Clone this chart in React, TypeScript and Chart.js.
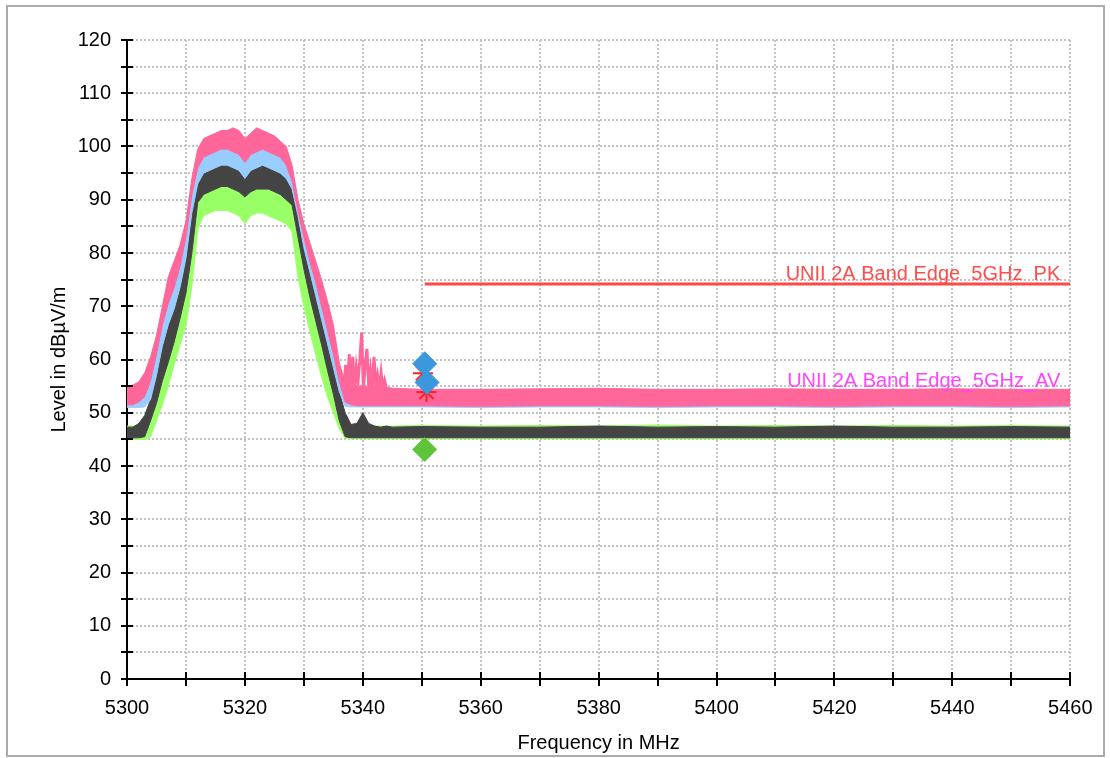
import React, { useEffect, useRef } from "react";
import { Chart, registerables } from "chart.js";

Chart.register(...registerables);

// ---------- data ----------
const FREQ_MHZ = [
  5300, 5301, 5302, 5303, 5304, 5305, 5306, 5307, 5308, 5309,
  5310, 5311, 5312, 5313, 5314, 5315, 5316, 5317, 5318, 5319,
  5320, 5321, 5322, 5323, 5324, 5325, 5326, 5327, 5328, 5329,
  5330, 5331, 5332, 5333, 5334, 5335, 5336, 5337, 5338, 5339,
  5340, 5341, 5342, 5343, 5344, 5345,
  5350, 5360, 5370, 5380, 5390, 5400, 5410, 5420, 5430, 5440, 5450, 5460,
];

// Pink trace (upper / lower envelope of the noisy sweep)
const PINK_HI = [
  55.0, 55.2, 55.8, 57.5, 60.5, 64.5, 70.0, 75.5, 78.5, 81.5,
  86.0, 94.0, 99.5, 101.5, 102.0, 102.5, 103.0, 103.0, 103.5, 103.0,
  101.5, 102.5, 103.5, 103.0, 102.5, 102.0, 101.0, 100.0, 96.5, 90.0,
  85.5, 82.0, 78.5, 75.0, 71.0, 66.5, 59.5, 55.5, 55.0, 55.0,
  55.0, 55.0, 55.0, 54.8, 54.8, 54.6,
  54.4, 54.4, 54.5, 54.6, 54.4, 54.4, 54.5, 54.4, 54.4, 54.5, 54.4, 54.4,
];
const PINK_LO = [
  51.5, 51.5, 52.0, 53.0, 56.0, 61.0, 66.5, 70.5, 73.5, 77.5,
  83.0, 91.0, 96.0, 98.0, 98.5, 99.0, 99.5, 99.5, 99.0, 98.5,
  97.0, 98.5, 99.0, 99.5, 99.0, 98.5, 98.0, 96.5, 93.5, 88.0,
  83.0, 78.5, 74.5, 70.0, 65.5, 61.0, 56.0, 52.0, 51.5, 51.3,
  51.3, 51.3, 51.3, 51.3, 51.3, 51.3,
  51.3, 51.2, 51.3, 51.3, 51.2, 51.3, 51.3, 51.2, 51.3, 51.3, 51.2, 51.3,
];

// Light blue trace
const BLUE_HI = [
  54.0, 54.0, 54.3, 55.0, 58.0, 63.0, 68.5, 72.5, 75.5, 79.5,
  85.0, 93.0, 98.0, 99.5, 100.0, 100.5, 101.0, 101.0, 100.5, 100.0,
  98.5, 100.0, 100.5, 101.0, 100.5, 100.0, 99.5, 98.0, 95.5, 90.0,
  85.0, 80.5, 76.5, 72.0, 67.5, 63.0, 58.0, 54.3, 54.3, 54.3,
  54.3, 54.3, 54.3, 54.3, 54.3, 54.3,
  54.3, 54.3, 54.3, 54.3, 54.3, 54.3, 54.3, 54.3, 54.3, 54.3, 54.3, 54.3,
];
const BLUE_LO = [
  51.0, 51.0, 51.0, 51.1, 52.5, 57.0, 62.5, 66.5, 69.5, 73.5,
  79.0, 87.5, 93.0, 95.0, 95.5, 96.0, 96.5, 96.5, 96.0, 95.5,
  94.0, 95.5, 96.0, 96.5, 96.0, 95.5, 95.0, 94.0, 92.0, 87.0,
  81.0, 76.5, 72.0, 67.5, 63.0, 58.5, 54.0, 51.2, 51.1, 51.1,
  51.1, 51.1, 51.1, 51.1, 51.1, 51.1,
  51.1, 51.0, 51.1, 51.1, 51.0, 51.1, 51.1, 51.0, 51.1, 51.1, 51.0, 51.1,
];

// Dark grey trace
const BLACK_HI = [
  47.3, 47.3, 48.0, 49.5, 52.5, 57.0, 62.5, 66.5, 69.5, 73.5,
  79.0, 87.5, 93.0, 95.0, 95.5, 96.0, 96.5, 96.5, 96.0, 95.5,
  94.0, 95.5, 96.0, 96.5, 96.0, 95.5, 95.0, 94.0, 92.0, 87.0,
  81.0, 76.5, 72.0, 67.5, 63.0, 58.5, 54.0, 50.0, 47.8, 48.0,
  50.0, 48.0, 47.5, 47.3, 47.5, 47.3,
  47.4, 47.3, 47.3, 47.5, 47.3, 47.4, 47.3, 47.5, 47.3, 47.3, 47.4, 47.3,
];
const BLACK_LO = [
  45.3, 45.3, 45.3, 45.5, 48.5, 51.8, 56.0, 59.5, 63.3, 67.7,
  72.5, 80.0, 89.5, 91.0, 91.5, 92.0, 92.5, 92.5, 92.0, 91.5,
  90.5, 91.5, 92.0, 92.0, 92.0, 91.5, 91.0, 90.0, 89.0, 83.0,
  77.0, 71.8, 67.3, 62.8, 58.0, 53.5, 48.5, 45.5, 45.3, 45.3,
  45.3, 45.3, 45.3, 45.3, 45.3, 45.3,
  45.3, 45.3, 45.3, 45.3, 45.3, 45.3, 45.3, 45.3, 45.3, 45.3, 45.3, 45.3,
];

// Light green trace
const GREEN_HI = [
  47.5, 47.5, 47.5, 47.5, 49.0, 52.5, 56.5, 60.0, 64.0, 68.0,
  73.0, 81.0, 90.0, 91.5, 92.0, 92.5, 93.0, 93.0, 92.5, 92.0,
  91.0, 92.0, 92.5, 92.5, 92.5, 92.0, 91.5, 90.5, 89.5, 84.0,
  78.0, 73.0, 68.5, 64.0, 59.0, 54.5, 49.5, 47.5, 47.5, 47.5,
  47.5, 47.5, 47.5, 47.5, 47.5, 47.5,
  47.6, 47.5, 47.6, 47.5, 47.7, 47.5, 47.6, 47.5, 47.6, 47.5, 47.6, 47.5,
];
const GREEN_LO = [
  45.0, 45.0, 45.0, 45.0, 45.5, 48.5, 51.5, 55.0, 59.0, 62.7,
  66.5, 73.7, 84.5, 87.0, 87.5, 88.0, 88.0, 88.0, 87.5, 87.0,
  85.5, 87.0, 87.5, 87.5, 87.0, 86.5, 86.0, 85.5, 84.0, 75.5,
  70.0, 65.3, 61.0, 56.8, 53.0, 50.0, 47.0, 45.2, 45.1, 45.1,
  45.1, 45.1, 45.1, 45.1, 45.1, 45.1,
  45.1, 45.1, 45.1, 45.1, 45.1, 45.1, 45.1, 45.1, 45.1, 45.1, 45.1, 45.1,
];

// Pink spurious spikes just after the channel
const SPIKE_FREQ = [
  5336.8, 5337.1, 5337.4, 5337.7, 5338.0, 5338.3, 5338.6, 5338.9, 5339.2, 5339.5,
  5339.8, 5340.1, 5340.4, 5340.7, 5341.0, 5341.3, 5341.6, 5341.9, 5342.2, 5342.5,
  5342.8, 5343.1, 5343.4, 5343.7, 5344.0,
];
const SPIKE_LEVEL = [
  55, 59, 54, 61, 55, 60.5, 54, 58.5, 56, 60,
  65, 54.5, 59, 62, 55, 58, 54.5, 60.5, 55, 57,
  54.5, 57.5, 54.5, 56, 54.5,
];

// Limit lines
const LIMIT_FREQ = [5350.5, 5460];
const PK_LIMIT = [74.2, 74.2];
const AV_LIMIT = [54.0, 54.0];
const PK_LABEL = "UNII 2A Band Edge_5GHz_PK";
const AV_LABEL = "UNII 2A Band Edge_5GHz_AV";

// Markers
const BLUE_MARK_FREQ = [5350.5, 5350.9];
const BLUE_MARK_LEVEL = [59.2, 55.7];
const RED_MARK_FREQ = [5350.2, 5350.8];
const RED_MARK_LEVEL = [57.4, 53.9];
const GREEN_MARK_FREQ = [5350.5];
const GREEN_MARK_LEVEL = [43.1];

// Axes
const X_LABELS = [5300, 5320, 5340, 5360, 5380, 5400, 5420, 5440, 5460];
const Y_LABELS = [0, 10, 20, 30, 40, 50, 60, 70, 80, 90, 100, 110, 120];

const FONT = "'Liberation Sans', Arial, sans-serif";

const pts = (xs: number[], ys: number[]) => xs.map((x, i) => ({ x, y: ys[i] }));

function band(name: string, hi: number[], lo: number[], color: string, order: number) {
  return [
    {
      label: name + " hi",
      data: pts(FREQ_MHZ, hi),
      borderColor: color,
      backgroundColor: color,
      borderWidth: 1,
      pointRadius: 0,
      fill: "+1",
      order,
    },
    {
      label: name + " lo",
      data: pts(FREQ_MHZ, lo),
      borderColor: color,
      backgroundColor: color,
      borderWidth: 1,
      pointRadius: 0,
      fill: false,
      order,
    },
  ];
}

const tickMarks = {
  id: "tickMarks",
  afterDatasetsDraw(chart: any) {
    const { ctx, chartArea } = chart;
    const xs = chart.scales.x;
    const ys = chart.scales.y;
    ctx.save();
    ctx.strokeStyle = "#000";
    ctx.lineWidth = 2;
    xs.ticks.forEach((t: any) => {
      const px = Math.round(xs.getPixelForValue(t.value));
      ctx.beginPath();
      ctx.moveTo(px, chartArea.bottom - 7);
      ctx.lineTo(px, chartArea.bottom + 7);
      ctx.stroke();
    });
    ys.ticks.forEach((t: any) => {
      const py = Math.round(ys.getPixelForValue(t.value));
      ctx.beginPath();
      ctx.moveTo(chartArea.left - 6, py);
      ctx.lineTo(chartArea.left + 6, py);
      ctx.stroke();
    });
    // limit labels
    ctx.font = "20px " + FONT;
    ctx.textAlign = "right";
    ctx.textBaseline = "alphabetic";
    const xr = xs.getPixelForValue(LIMIT_FREQ[1]) - 10;
    ctx.fillStyle = "#ff4c4c";
    ctx.fillText(PK_LABEL, xr, ys.getPixelForValue(PK_LIMIT[1]) - 4);
    ctx.fillStyle = "#ff44ff";
    ctx.fillText(AV_LABEL, xr, ys.getPixelForValue(AV_LIMIT[1]) - 4);
    ctx.restore();
  },
  afterDraw(chart: any) {
    const { ctx } = chart;
    ctx.save();
    ctx.strokeStyle = "#ababab";
    ctx.lineWidth = 2;
    ctx.strokeRect(7, 6, 1097, 750);
    ctx.restore();
  },
};

const bgPlugin = {
  id: "bg",
  beforeDraw(chart: any) {
    const { ctx, width, height } = chart;
    ctx.save();
    ctx.fillStyle = "#ffffff";
    ctx.fillRect(0, 0, width, height);
    ctx.restore();
  },
};

export default function App() {
  const ref = useRef<HTMLCanvasElement>(null);
  useEffect(() => {
    const datasets: any[] = [
      {
        label: "green markers",
        data: pts(GREEN_MARK_FREQ, GREEN_MARK_LEVEL),
        showLine: false,
        pointStyle: "rectRot",
        pointRadius: 12,
        backgroundColor: "#5ec43a",
        borderColor: "#5ec43a",
        borderWidth: 1,
        order: 0,
      },
      {
        label: "blue markers",
        data: pts(BLUE_MARK_FREQ, BLUE_MARK_LEVEL),
        showLine: false,
        pointStyle: "rectRot",
        pointRadius: 12,
        backgroundColor: "#3c98dc",
        borderColor: "#3c98dc",
        borderWidth: 1,
        order: 0,
      },
      {
        label: "red markers",
        data: pts(RED_MARK_FREQ, RED_MARK_LEVEL),
        showLine: false,
        pointStyle: "star",
        pointRadius: 10,
        backgroundColor: "#ff2020",
        borderColor: "#ff2020",
        borderWidth: 2,
        order: 0.5,
      },
      {
        label: "PK limit",
        data: pts(LIMIT_FREQ, PK_LIMIT),
        borderColor: "#ff4848",
        borderWidth: 3,
        pointRadius: 0,
        fill: false,
        order: 0.8,
      },
      {
        label: "pink spikes",
        data: pts(SPIKE_FREQ, SPIKE_LEVEL),
        borderColor: "#ff6699",
        borderWidth: 3,
        pointRadius: 0,
        fill: false,
        order: 1,
      },
      ...band("pink", PINK_HI, PINK_LO, "#ff6699", 1),
      ...band("blue", BLUE_HI, BLUE_LO, "#99ccff", 2),
      ...band("black", BLACK_HI, BLACK_LO, "#444444", 3),
      ...band("green", GREEN_HI, GREEN_LO, "#99ff66", 4),
      {
        label: "AV limit",
        data: pts(LIMIT_FREQ, AV_LIMIT),
        borderColor: "#ff44ff",
        borderWidth: 3,
        pointRadius: 0,
        fill: false,
        order: 5,
      },
    ];

    const chart = new Chart(ref.current as HTMLCanvasElement, {
      type: "line",
      data: { datasets },
      options: {
        responsive: false,
        animation: false,
        devicePixelRatio: 1,
        layout: { padding: { top: 40, right: 38, left: 0, bottom: 0 } },
        elements: { line: { tension: 0 } },
        plugins: { legend: { display: false }, tooltip: { enabled: false } },
        scales: {
          x: {
            type: "linear",
            min: 5300,
            max: 5460,
            afterFit: (s: any) => {
              s.height = 79;
            },
            ticks: {
              stepSize: 10,
              autoSkip: false,
              maxRotation: 0,
              padding: 17.5,
              color: "#000",
              font: { family: FONT, size: 20 },
              callback: (v: any) => (X_LABELS.includes(Number(v)) ? String(v) : ""),
            },
            grid: { color: "#c4c4c4", lineWidth: 2, drawTicks: false },
            border: { display: true, color: "#000", width: 2, dash: [2, 2] },
            title: {
              display: true,
              text: "Frequency in MHz",
              color: "#000",
              font: { family: FONT, size: 20 },
              padding: { top: 0, bottom: 2.5 },
            },
          },
          y: {
            min: 0,
            max: 120,
            afterFit: (s: any) => {
              s.width = 127;
            },
            ticks: {
              stepSize: 5,
              autoSkip: false,
              padding: 16,
              color: "#000",
              font: { family: FONT, size: 20 },
              callback: (v: any) => (Y_LABELS.includes(Number(v)) ? String(v) : ""),
            },
            grid: { color: "#c4c4c4", lineWidth: 2, drawTicks: false },
            border: { display: true, color: "#000", width: 2, dash: [2, 2] },
            title: {
              display: true,
              text: "Level in dBµV/m",
              color: "#000",
              font: { family: FONT, size: 20 },
              padding: { top: 47.5, bottom: 0 },
            },
          },
        },
      },
      plugins: [bgPlugin, tickMarks],
    } as any);
    return () => chart.destroy();
  }, []);

  return (
    <div style={{ position: "absolute", left: 0, top: 0, width: 1110, height: 758, background: "#fff" }}>
      <canvas ref={ref} width={1110} height={758} style={{ display: "block" }} />
    </div>
  );
}
